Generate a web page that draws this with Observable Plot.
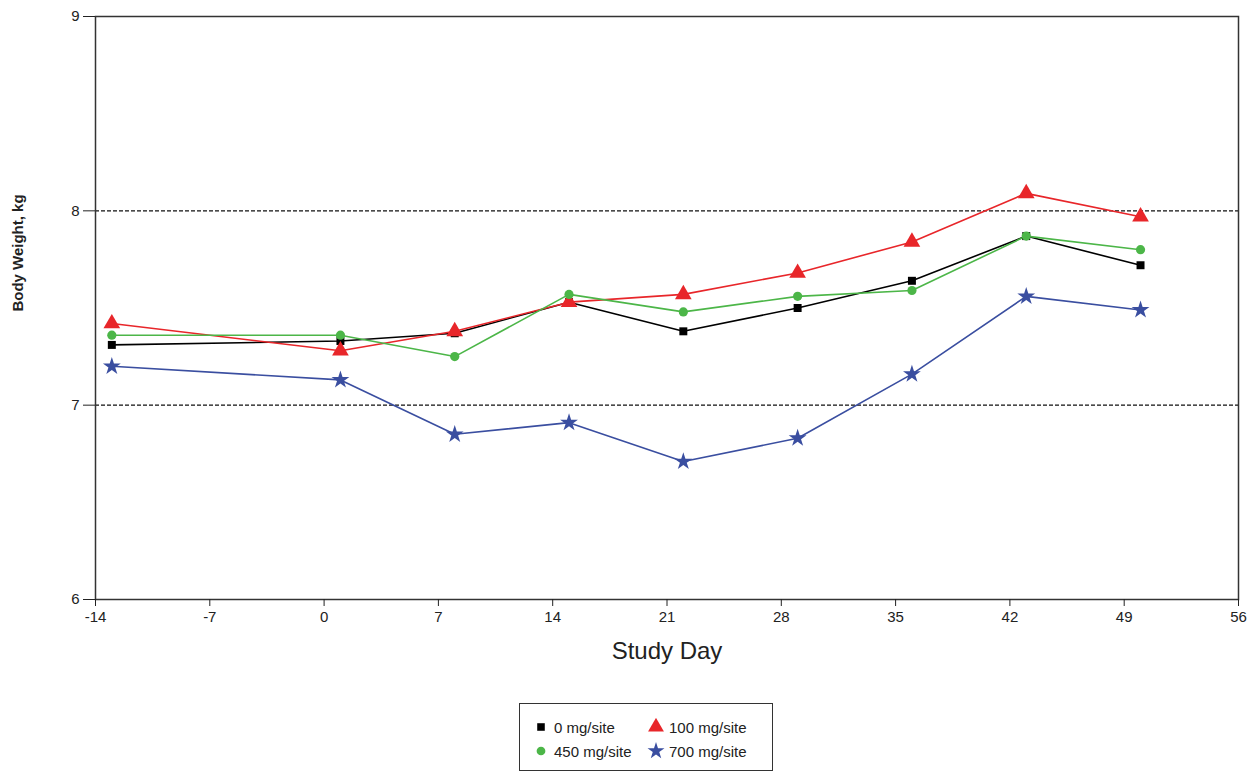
<!DOCTYPE html>
<html>
<head>
<meta charset="utf-8">
<script src="https://cdn.jsdelivr.net/npm/d3@7"></script>
<script src="https://cdn.jsdelivr.net/npm/@observablehq/plot@0.6"></script>
<style>
  body { margin: 0; background: white; font-family: "Liberation Sans", Arial, sans-serif; }
  #chart svg [aria-label$="tick label"], #chart svg [aria-label$="tick label"] text { font-size: 15px; }
  #legend { margin-left: 519px; margin-top: 13px; width: 252px; border: 1.5px solid #333; padding: 14px 0 10px 0;
    display: grid; grid-template-columns: 115px 135px; row-gap: 6px; font-size: 15px; color: #222; }
  #legend .item { display: flex; align-items: center; padding-left: 12px; }
  #legend svg { margin-right: 4px; }
</style>
</head>
<body>
<div id="chart"></div>
<div id="legend"></div>
<script>
const days = [-13, 1, 8, 15, 22, 29, 36, 43, 50];
const dose0   = [7.31, 7.33, 7.37, 7.53, 7.38, 7.50, 7.64, 7.87, 7.72];
const dose100 = [7.42, 7.28, 7.38, 7.53, 7.57, 7.68, 7.84, 8.09, 7.97];
const dose450 = [7.36, 7.36, 7.25, 7.57, 7.48, 7.56, 7.59, 7.87, 7.80];
const dose700 = [7.20, 7.13, 6.85, 6.91, 6.71, 6.83, 7.16, 7.56, 7.49];
const seriesNames = ["0 mg/site", "100 mg/site", "450 mg/site", "700 mg/site"];
const seriesColors = ["#000000", "#e8262a", "#4cb648", "#3a4ea0"];
const seriesSymbols = ["square", "triangle", "circle", "star"];
const seriesSizes = [4.5, 6.2, 4.6, 5.6];
const xTicks = [-14, -7, 0, 7, 14, 21, 28, 35, 42, 49, 56];
const yTicks = [6, 7, 8, 9];
const refLines = [7, 8];

const allValues = [dose0, dose100, dose450, dose700];
const rows = [];
allValues.forEach((vals, s) => vals.forEach((v, i) => rows.push({day: days[i], value: v, series: seriesNames[s], s})));

const marks = [
  Plot.ruleY(refLines, {stroke: "#111", strokeWidth: 1.3, strokeDasharray: "4,2"}),
  Plot.frame({stroke: "#333", strokeWidth: 1.5}),
  Plot.axisX({ticks: xTicks, tickSize: 7, tickPadding: 5, label: null, fontSize: 15, tickFormat: d => String(d)}),
  Plot.axisY({ticks: yTicks, tickSize: 12, tickPadding: 4, label: null, fontSize: 15, tickFormat: d => String(d)}),
  Plot.text(["Study Day"], {frameAnchor: "bottom", text: d => d, dy: 59, fontSize: 24, fill: "#222"}),
  Plot.text(["Body Weight, kg"], {frameAnchor: "left", textAnchor: "middle", text: d => d, rotate: -90, dx: -77, dy: -55, fontSize: 15, fontWeight: "bold", fill: "#222"})
];
seriesNames.forEach((name, s) => {
  const data = rows.filter(r => r.s === s);
  marks.push(Plot.line(data, {x: "day", y: "value", stroke: seriesColors[s], strokeWidth: 1.6}));
});
seriesNames.forEach((name, s) => {
  const data = rows.filter(r => r.s === s);
  marks.push(Plot.dot(data, {x: "day", y: "value", symbol: () => seriesSymbols[s], r: seriesSizes[s], fill: seriesColors[s], stroke: "none"}));
});

const chart = Plot.plot({
  width: 1259, height: 690,
  marginLeft: 95, marginRight: 21, marginTop: 16, marginBottom: 91,
  style: {fontFamily: "'Liberation Sans', Arial, sans-serif", fontSize: "15px", color: "#222", background: "white"},
  x: {domain: [-14, 56]},
  y: {domain: [6, 9]},
  symbol: {type: "identity"},
  marks
});
document.getElementById("chart").append(chart);

// Legend
const legend = document.getElementById("legend");
[0, 1, 2, 3].forEach(s => {
  const item = document.createElement("div");
  item.className = "item";
  const sym = d3.symbol().type({square: d3.symbolSquare, triangle: d3.symbolTriangle, circle: d3.symbolCircle, star: d3.symbolStar}[seriesSymbols[s]])
    .size(Math.PI * Math.pow(seriesSizes[s] * 0.95, 2));
  const svgNS = "http://www.w3.org/2000/svg";
  const svg = document.createElementNS(svgNS, "svg");
  svg.setAttribute("width", 18); svg.setAttribute("height", 18);
  const p = document.createElementNS(svgNS, "path");
  p.setAttribute("d", sym());
  p.setAttribute("transform", "translate(9,9)");
  p.setAttribute("fill", seriesColors[s]);
  svg.append(p);
  item.append(svg);
  item.append(document.createTextNode(seriesNames[s]));
  legend.append(item);
});
</script>
</body>
</html>
